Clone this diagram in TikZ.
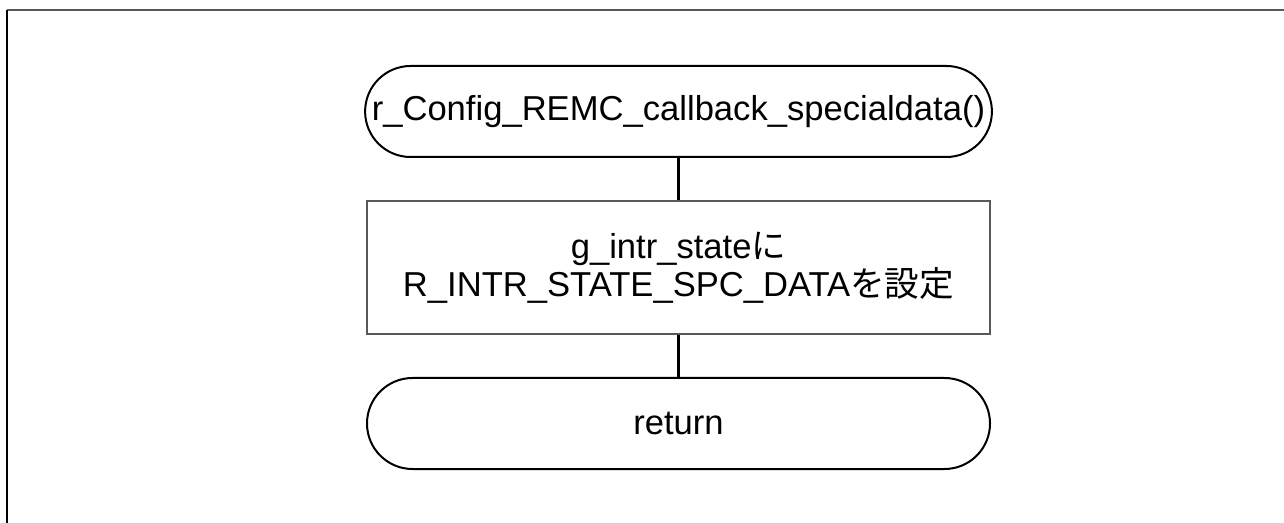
\documentclass[tikz,border=0pt]{standalone}
\usepackage{fontspec}
\setmainfont{Liberation Sans}
\newfontfamily\jpfont{Noto Sans CJK JP}
\usetikzlibrary{positioning}

\begin{document}
\begin{tikzpicture}[x=0.5pt,y=-0.5pt,
  term/.style={draw, line width=1pt, rectangle, rounded corners=22.75pt,
    minimum width=311.5pt, minimum height=45.5pt, font=\fontsize{17.3}{19}\selectfont},
  proc/.style={draw=gray!70!black, line width=0.9pt, minimum width=311.5pt,
    minimum height=66.5pt, align=center, font=\fontsize{17.3}{19}\selectfont},
  flow/.style={line width=1.5pt}]
\useasboundingbox (0,0) rectangle (1284,523);
% frame
\draw[gray!70!black, line width=1pt] (7,10) -- (1284,10);
\draw[line width=0.75pt] (7,10) -- (7,523);

\node[term] (start) at (678.5,111.5) {r\_Config\_REMC\_callback\_specialdata()};
\node[proc] (setstate) at (678.5,267.5) {g\_intr\_state{\jpfont に}\\R\_INTR\_STATE\_SPC\_DATA{\jpfont を設定}};
\node[term] (ret) at (678.5,423.5) {return};

\draw[flow] (start) -- (setstate);
\draw[flow] (setstate) -- (ret);
\end{tikzpicture}
\end{document}
